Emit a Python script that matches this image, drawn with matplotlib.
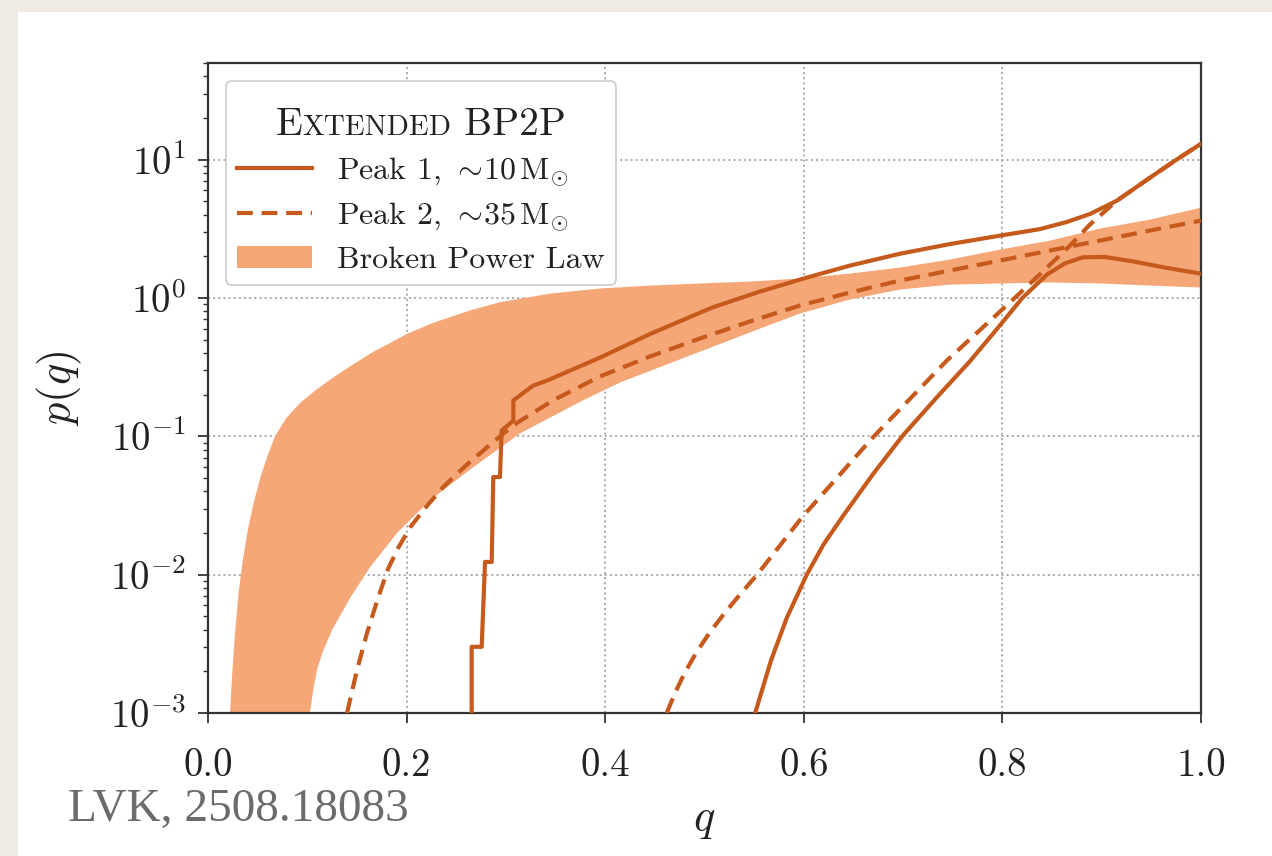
import numpy as np
import matplotlib
matplotlib.use("Agg")
import matplotlib.pyplot as plt
from matplotlib.patches import Rectangle
from matplotlib.offsetbox import TextArea, HPacker, VPacker, DrawingArea

# ── 폰트 (LaTeX 느낌) ────────────────────────────
plt.rcParams["font.family"] = "serif"
plt.rcParams["font.serif"] = ["cmr10"]
plt.rcParams["mathtext.fontset"] = "cm"
plt.rcParams["axes.formatter.use_mathtext"] = True

LINE_C = "#c65a1c"
BAND_C = "#f6a777"
TEXT_C = "#222222"
DASH = (0, (3.8, 2.1))

# ── 데이터 ────────────────────────────────
# Broken Power Law band: 위/아래 경계
band_up_q = [0.0222, 0.0245, 0.0275, 0.031, 0.035, 0.040, 0.046, 0.053, 0.060, 0.0675,
             0.0786, 0.0926, 0.1078, 0.1259, 0.146, 0.1662, 0.2004, 0.2266, 0.2638, 0.294,
             0.3444, 0.3948, 0.4451, 0.4955, 0.5458, 0.5962, 0.6465, 0.6969, 0.7472, 0.7976,
             0.8479, 0.8983, 0.9486, 1.0]
band_up_p = [0.001, 0.0020, 0.00398, 0.00759, 0.0126, 0.0209, 0.0331, 0.0513, 0.0724, 0.100,
             0.135, 0.174, 0.214, 0.266, 0.331, 0.407, 0.550, 0.661, 0.813, 0.933,
             1.076, 1.172, 1.230, 1.274, 1.315, 1.384, 1.503, 1.660, 1.897, 2.239,
             2.600, 3.177, 3.690, 4.498]
band_lo_q = [0.1027, 0.106, 0.110, 0.116, 0.125, 0.143, 0.1631, 0.1903, 0.2236, 0.2669,
             0.3142, 0.3776, 0.4149, 0.4753, 0.5458, 0.5962, 0.6465, 0.6969, 0.7472, 0.7976,
             0.8479, 0.8983, 0.9486, 1.0]
band_lo_p = [0.001, 0.00148, 0.00209, 0.00282, 0.00398, 0.00676, 0.0113, 0.0200, 0.0345, 0.0597,
             0.105, 0.182, 0.245, 0.360, 0.564, 0.773, 0.975, 1.151, 1.250, 1.274,
             1.295, 1.274, 1.230, 1.191]

# Peak 1 (실선) - 계단형으로 시작하는 곡선 / 늦게 시작하는 곡선
peak1a_q = [0.2655, 0.2655, 0.2756, 0.279, 0.2857, 0.2873, 0.294, 0.2957, 0.3075, 0.3075,
            0.321, 0.3276, 0.3414, 0.3948, 0.4451, 0.5076, 0.5559, 0.6032, 0.6465, 0.6969,
            0.7472, 0.7976, 0.8379, 0.8651, 0.8882, 0.9154, 0.9486, 0.9738, 1.0]
peak1a_p = [0.001, 0.00301, 0.00301, 0.01236, 0.01236, 0.0508, 0.0508, 0.110, 0.130, 0.182,
            0.215, 0.233, 0.253, 0.371, 0.549, 0.853, 1.114, 1.406, 1.716, 2.09,
            2.455, 2.825, 3.15, 3.55, 4.05, 5.058, 7.41, 9.84, 13.03]
peak1b_q = [0.551, 0.567, 0.583, 0.603, 0.620, 0.640, 0.670, 0.700, 0.735, 0.767,
            0.795, 0.820, 0.845, 0.863, 0.881, 0.9033, 0.9315, 0.9637, 1.0]
peak1b_p = [0.001, 0.0024, 0.0049, 0.010, 0.0166, 0.0269, 0.0537, 0.102, 0.195, 0.347,
            0.603, 1.0, 1.48, 1.78, 1.97, 1.98, 1.84, 1.66, 1.50]

# Peak 2 (점선)
peak2a_q = [0.140, 0.150, 0.1601, 0.1712, 0.1813, 0.1913, 0.2034, 0.2185, 0.2367, 0.2588,
            0.281, 0.3072, 0.3474, 0.3948, 0.4451, 0.4955, 0.5458, 0.5962, 0.6465, 0.6969,
            0.7472, 0.7976, 0.8479, 0.8983, 0.9486, 1.0]
peak2a_p = [0.001, 0.00204, 0.00378, 0.00677, 0.0110, 0.0155, 0.0219, 0.0302, 0.0429, 0.0607,
            0.0833, 0.120, 0.182, 0.271, 0.378, 0.510, 0.677, 0.883, 1.096, 1.337,
            1.580, 1.866, 2.204, 2.603, 3.073, 3.628]
peak2b_q = [0.462, 0.470, 0.480, 0.492, 0.505, 0.520, 0.535, 0.553, 0.5982, 0.6697,
            0.7442, 0.8107, 0.8449, 0.868, 0.8882, 0.9154, 0.9486, 0.9738, 1.0]
peak2b_p = [0.001, 0.00138, 0.00195, 0.00275, 0.0038, 0.00525, 0.00708, 0.010, 0.026, 0.0985,
            0.354, 0.975, 1.66, 2.39, 3.40, 5.06, 7.41, 9.84, 13.03]

x_ticks = [0.0, 0.2, 0.4, 0.6, 0.8, 1.0]

# ── 그림 ────────────────────────────────────────
fig = plt.figure(figsize=(12.72, 8.56), dpi=100, facecolor="#efebe4")
fig.patches.append(Rectangle((18 / 1272, 0), 1 - 18 / 1272, 1 - 12 / 856,
                             transform=fig.transFigure, facecolor="white",
                             edgecolor="none", zorder=-10))

ax = fig.add_axes([208 / 1272, 1 - 713 / 856, 993 / 1272, 650 / 856])

poly_q = np.concatenate([band_up_q, band_lo_q[::-1]])
poly_p = np.concatenate([band_up_p, band_lo_p[::-1]])
band = ax.fill(poly_q, poly_p, color=BAND_C, lw=0, zorder=2, label="Broken Power Law")[0]

l1, = ax.plot(peak1a_q, peak1a_p, color=LINE_C, lw=3.0, zorder=3,
              label=r"Peak 1, $\sim\!10\,\mathrm{M}_{\odot}$")
ax.plot(peak1b_q, peak1b_p, color=LINE_C, lw=3.0, zorder=3)
l2, = ax.plot(peak2a_q, peak2a_p, color=LINE_C, lw=3.0, ls=DASH, zorder=3,
              label=r"Peak 2, $\sim\!35\,\mathrm{M}_{\odot}$")
ax.plot(peak2b_q, peak2b_p, color=LINE_C, lw=3.0, ls=DASH, zorder=3)

ax.set_yscale("log")
ax.set_xlim(0, 1)
ax.set_ylim(1e-3, 50)
ax.set_xticks(x_ticks)
ax.set_xticklabels([f"{v:.1f}" for v in x_ticks])
ax.minorticks_off()
ax.yaxis.set_minor_locator(matplotlib.ticker.LogLocator(base=10, subs=np.arange(2, 10)))
ax.yaxis.set_minor_formatter(matplotlib.ticker.NullFormatter())

ax.grid(True, which="major", ls=":", color="#a8a8a8", lw=1.4, zorder=0)
ax.set_axisbelow(True)

for s in ax.spines.values():
    s.set_color("#333333")
    s.set_linewidth(1.6)
ax.tick_params(which="major", direction="out", length=7, width=1.3,
               labelsize=28, colors="#333333", labelcolor=TEXT_C)
ax.tick_params(axis="x", which="major", pad=18)
ax.tick_params(axis="y", which="major", pad=9)
ax.tick_params(which="minor", direction="out", length=3.5, width=1.0, colors="#333333")

ax.set_xlabel(r"$q$", fontsize=32, color=TEXT_C)
ax.set_ylabel(r"$p(q)$", fontsize=32, color=TEXT_C)
ax.xaxis.set_label_coords(0.5, -0.135)
ax.yaxis.set_label_coords(-0.125, 0.5)

# ── 범례 (제목은 small caps 로 직접 구성) ────────
leg = ax.legend(handles=[l1, l2, band], loc="upper left", title=" ",
                fontsize=23, title_fontsize=28, handlelength=2.35, handletextpad=0.78,
                labelspacing=0.38, borderaxespad=0.55, borderpad=0.36,
                fancybox=True, framealpha=1.0, edgecolor="#cccccc")
for t in leg.get_texts():
    t.set_color(TEXT_C)
leg.get_frame().set_linewidth(1.2)

title_row = HPacker(children=[
    TextArea("E", textprops=dict(size=28.5, color=TEXT_C)),
    TextArea("XTENDED", textprops=dict(size=21, color=TEXT_C)),
    TextArea(" BP2P", textprops=dict(size=28.5, color=TEXT_C)),
], align="baseline", pad=0, sep=0)
title_box = VPacker(children=[DrawingArea(1, 11), title_row], align="center", pad=0, sep=0)
leg._legend_box._children[0] = title_box
title_box.set_figure(fig)

fig.text(68 / 1272, 1 - 810 / 856, "LVK, 2508.18083", fontsize=34,
         family="Liberation Serif", color="#6b6b6b", va="center", ha="left")

fig.savefig("out.png", dpi=100, facecolor=fig.get_facecolor())
